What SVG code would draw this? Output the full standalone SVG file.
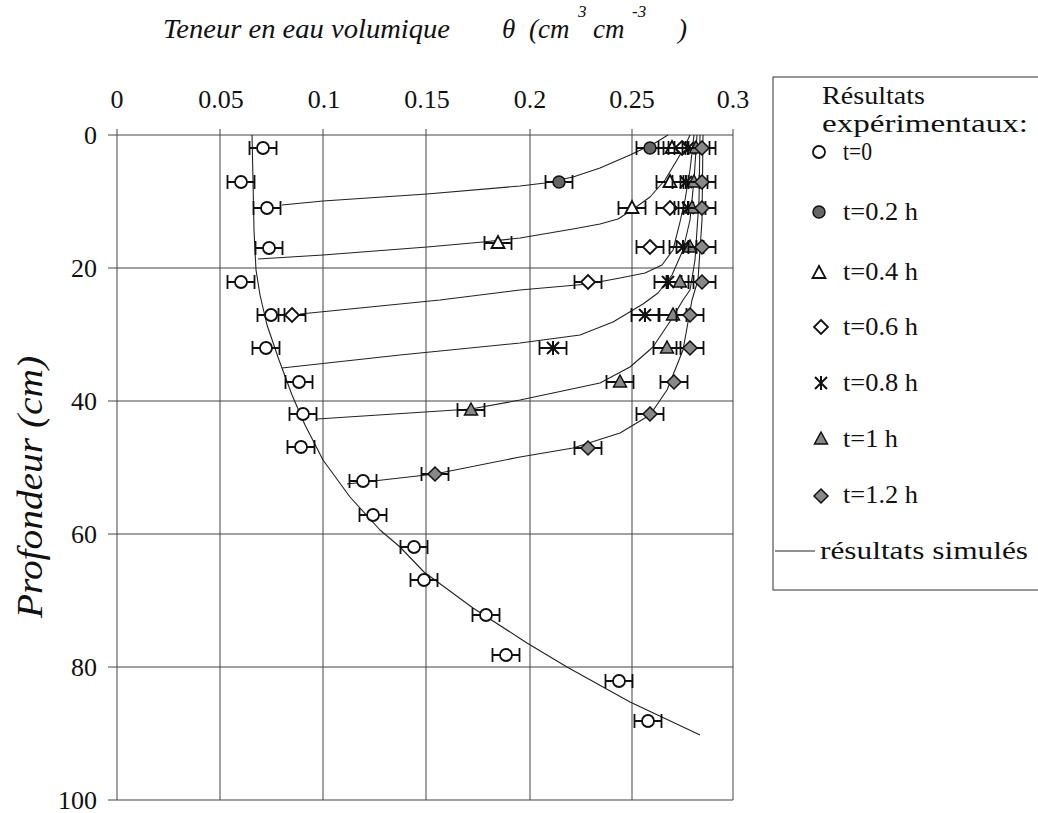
<svg xmlns="http://www.w3.org/2000/svg" xmlns:xlink="http://www.w3.org/1999/xlink" width="1038" height="813" viewBox="0 0 1038 813" font-family="Liberation Serif, Times New Roman, serif">
<style>
text{font-family:'Liberation Serif','Times New Roman',serif;fill:#111}
.it{font-style:italic}
.tick{font-size:26px}
.leg{font-size:26px}
.grid{stroke:#444;stroke-width:1;fill:none}
.curve{stroke:#222;stroke-width:1.1;fill:none;stroke-linejoin:round}
.eb{stroke:#111;stroke-width:1.8;fill:none}
.oc{fill:#fff;stroke:#111;stroke-width:1.8}
.fc{fill:#666;stroke:#111;stroke-width:1.5}
.ot{fill:#fff;stroke:#111;stroke-width:1.8}
.ft{fill:#888;stroke:#111;stroke-width:1.5}
.od{fill:#fff;stroke:#111;stroke-width:1.8}
.fd{fill:#888;stroke:#111;stroke-width:1.5}
.xs{stroke:#111;stroke-width:2;fill:none}
</style>
<defs>
<path id="eb" class="eb" d="M-13.5,0H13.5M-13.5,-7V7M13.5,-7V7"/>
<circle id="mOC" class="oc" r="6"/>
<circle id="mFC" class="fc" r="6"/>
<path id="mOT" class="ot" d="M0,-7L6.5,5L-6.5,5Z"/>
<path id="mFT" class="ft" d="M0,-7L6.5,5L-6.5,5Z"/>
<path id="mOD" class="od" d="M0,-7L7,0L0,7L-7,0Z"/>
<path id="mFD" class="fd" d="M0,-7L7,0L0,7L-7,0Z"/>
<path id="mX" class="xs" d="M-6,-6L6,6M-6,6L6,-6M0,-7V7"/>
</defs>

<g id="title" font-family="Liberation Serif, serif" font-style="italic">
<text class="it" x="163" y="38" font-size="27" textLength="287" lengthAdjust="spacingAndGlyphs">Teneur en eau volumique</text>
<text class="it" x="502" y="38" font-size="27">θ</text>
<text class="it" x="529" y="38" font-size="27">(cm</text>
<text class="it" x="578" y="17" font-size="17">3</text>
<text class="it" x="593" y="38" font-size="27">cm</text>
<text class="it" x="632" y="17" font-size="17">-3</text>
<text class="it" x="678" y="38" font-size="27">)</text>
</g>

<g id="y-title" font-family="Liberation Serif, serif" font-style="italic">
<text class="it" transform="translate(42,487) rotate(-90)" text-anchor="middle" font-size="35" textLength="262" lengthAdjust="spacingAndGlyphs">Profondeur (cm)</text>
</g>

<g id="grid">
<path class="grid" d="M117,129V800M220,129V800M323,129V800M426,129V800M530,129V800M632,129V800M733,129V800"/>
<path class="grid" d="M108,135H733M108,268H733M108,401H733M108,534H733M108,667H733M108,800H733"/>
</g>

<g id="x-ticks" font-family="Liberation Serif, serif" text-anchor="middle">
<text class="tick" x="117" y="108">0</text>
<text class="tick" x="221" y="108">0.05</text>
<text class="tick" x="324" y="108">0.1</text>
<text class="tick" x="427" y="108">0.15</text>
<text class="tick" x="530" y="108">0.2</text>
<text class="tick" x="632" y="108">0.25</text>
<text class="tick" x="733" y="108">0.3</text>
</g>

<g id="y-ticks" font-family="Liberation Serif, serif" text-anchor="end">
<text class="tick" x="97" y="144">0</text>
<text class="tick" x="97" y="277">20</text>
<text class="tick" x="97" y="410">40</text>
<text class="tick" x="97" y="543">60</text>
<text class="tick" x="97" y="676">80</text>
<text class="tick" x="97" y="809">100</text>
</g>

<g id="connectors">
<polyline class="curve" points="252,135 253,180 254,230 256,270 260,295 267,325 279,360 292,395 305,425 323,460 350,497 380,530 400,547 424,572 473,608 527,643 567,667 630,702 700,735"/>
<polyline class="curve" points="668,135 655,143 630,155 600,168 573,177 545,183 520,186 427,194 323,201 282,205"/>
<polyline class="curve" points="690,135 684,148 677,160 665,180 650,197 632,210 618,219 600,224 573,229 520,238 483,242 427,247 323,255 258,259"/>
<polyline class="curve" points="694,135 690,170 685,200 680,222 673,250 662,265 645,273 620,278 588,284 520,290 440,300 300,314"/>
<polyline class="curve" points="697,135 694,180 690,220 683,250 672,275 658,293 643,304 613,322 580,335 520,343 400,355 282,368"/>
<polyline class="curve" points="700,135 699,200 695,260 690,290 683,300 673,317 653,347 630,367 600,383 520,400 471,409 317,419"/>
<polyline class="curve" points="703,135 702,220 698,280 692,300 683,350 667,390 650,415 620,433 573,448 520,457 435,474 347,484"/>
</g>

<g id="series-t0">
<use xlink:href="#eb" x="263" y="148"/><use xlink:href="#mOC" x="263" y="148"/>
<use xlink:href="#eb" x="241" y="182"/><use xlink:href="#mOC" x="241" y="182"/>
<use xlink:href="#eb" x="267" y="208"/><use xlink:href="#mOC" x="267" y="208"/>
<use xlink:href="#eb" x="269" y="248"/><use xlink:href="#mOC" x="269" y="248"/>
<use xlink:href="#eb" x="241" y="282"/><use xlink:href="#mOC" x="241" y="282"/>
<use xlink:href="#eb" x="271" y="315"/><use xlink:href="#mOC" x="271" y="315"/>
<use xlink:href="#eb" x="266" y="348"/><use xlink:href="#mOC" x="266" y="348"/>
<use xlink:href="#eb" x="299" y="382"/><use xlink:href="#mOC" x="299" y="382"/>
<use xlink:href="#eb" x="303" y="414"/><use xlink:href="#mOC" x="303" y="414"/>
<use xlink:href="#eb" x="301" y="447"/><use xlink:href="#mOC" x="301" y="447"/>
<use xlink:href="#eb" x="363" y="481"/><use xlink:href="#mOC" x="363" y="481"/>
<use xlink:href="#eb" x="373" y="515"/><use xlink:href="#mOC" x="373" y="515"/>
<use xlink:href="#eb" x="414" y="547"/><use xlink:href="#mOC" x="414" y="547"/>
<use xlink:href="#eb" x="424" y="580"/><use xlink:href="#mOC" x="424" y="580"/>
<use xlink:href="#eb" x="486" y="615"/><use xlink:href="#mOC" x="486" y="615"/>
<use xlink:href="#eb" x="506" y="655"/><use xlink:href="#mOC" x="506" y="655"/>
<use xlink:href="#eb" x="619" y="681"/><use xlink:href="#mOC" x="619" y="681"/>
<use xlink:href="#eb" x="648" y="721"/><use xlink:href="#mOC" x="648" y="721"/>
</g>

<g id="series-t02">
<use xlink:href="#eb" x="650" y="148"/><use xlink:href="#mFC" x="650" y="148"/>
<use xlink:href="#eb" x="559" y="182"/><use xlink:href="#mFC" x="559" y="182"/>
</g>

<g id="series-t04">
<use xlink:href="#eb" x="672" y="148"/><use xlink:href="#mOT" x="672" y="148"/>
<use xlink:href="#eb" x="670" y="182"/><use xlink:href="#mOT" x="670" y="182"/>
<use xlink:href="#eb" x="632" y="208"/><use xlink:href="#mOT" x="632" y="208"/>
<use xlink:href="#eb" x="498" y="243"/><use xlink:href="#mOT" x="498" y="243"/>
</g>

<g id="series-t06">
<use xlink:href="#eb" x="682" y="148"/><use xlink:href="#mOD" x="682" y="148"/>
<use xlink:href="#eb" x="670" y="208"/><use xlink:href="#mOD" x="670" y="208"/>
<use xlink:href="#eb" x="650" y="247"/><use xlink:href="#mOD" x="650" y="247"/>
<use xlink:href="#eb" x="588" y="282"/><use xlink:href="#mOD" x="588" y="282"/>
<use xlink:href="#eb" x="292" y="315"/><use xlink:href="#mOD" x="292" y="315"/>
</g>

<g id="series-t08">
<use xlink:href="#eb" x="688" y="148"/><use xlink:href="#mX" x="688" y="148"/>
<use xlink:href="#eb" x="686" y="182"/><use xlink:href="#mX" x="686" y="182"/>
<use xlink:href="#eb" x="688" y="208"/><use xlink:href="#mX" x="688" y="208"/>
<use xlink:href="#eb" x="683" y="247"/><use xlink:href="#mX" x="683" y="247"/>
<use xlink:href="#eb" x="668" y="282"/><use xlink:href="#mX" x="668" y="282"/>
<use xlink:href="#eb" x="645" y="315"/><use xlink:href="#mX" x="645" y="315"/>
<use xlink:href="#eb" x="553" y="348"/><use xlink:href="#mX" x="553" y="348"/>
</g>

<g id="series-t1">
<use xlink:href="#eb" x="696" y="148"/><use xlink:href="#mFT" x="696" y="148"/>
<use xlink:href="#eb" x="694" y="182"/><use xlink:href="#mFT" x="694" y="182"/>
<use xlink:href="#eb" x="692" y="208"/><use xlink:href="#mFT" x="692" y="208"/>
<use xlink:href="#eb" x="690" y="247"/><use xlink:href="#mFT" x="690" y="247"/>
<use xlink:href="#eb" x="680" y="282"/><use xlink:href="#mFT" x="680" y="282"/>
<use xlink:href="#eb" x="673" y="315"/><use xlink:href="#mFT" x="673" y="315"/>
<use xlink:href="#eb" x="667" y="348"/><use xlink:href="#mFT" x="667" y="348"/>
<use xlink:href="#eb" x="620" y="382"/><use xlink:href="#mFT" x="620" y="382"/>
<use xlink:href="#eb" x="471" y="410"/><use xlink:href="#mFT" x="471" y="410"/>
</g>

<g id="series-t12">
<use xlink:href="#eb" x="702" y="148"/><use xlink:href="#mFD" x="702" y="148"/>
<use xlink:href="#eb" x="702" y="182"/><use xlink:href="#mFD" x="702" y="182"/>
<use xlink:href="#eb" x="702" y="208"/><use xlink:href="#mFD" x="702" y="208"/>
<use xlink:href="#eb" x="702" y="247"/><use xlink:href="#mFD" x="702" y="247"/>
<use xlink:href="#eb" x="702" y="282"/><use xlink:href="#mFD" x="702" y="282"/>
<use xlink:href="#eb" x="690" y="315"/><use xlink:href="#mFD" x="690" y="315"/>
<use xlink:href="#eb" x="690" y="348"/><use xlink:href="#mFD" x="690" y="348"/>
<use xlink:href="#eb" x="674" y="382"/><use xlink:href="#mFD" x="674" y="382"/>
<use xlink:href="#eb" x="650" y="414"/><use xlink:href="#mFD" x="650" y="414"/>
<use xlink:href="#eb" x="588" y="448"/><use xlink:href="#mFD" x="588" y="448"/>
<use xlink:href="#eb" x="435" y="474"/><use xlink:href="#mFD" x="435" y="474"/>
</g>

<g id="legend" font-family="Liberation Serif, serif">
<rect x="773" y="77" width="300" height="513" fill="#fff" stroke="#333" stroke-width="1"/>
<text class="leg" x="822" y="104" textLength="103" lengthAdjust="spacingAndGlyphs">Résultats</text>
<text class="leg" x="822" y="132" textLength="206" lengthAdjust="spacingAndGlyphs">expérimentaux:</text>
<use xlink:href="#mOC" x="819" y="152"/><text class="leg" x="843" y="160" textLength="29" lengthAdjust="spacingAndGlyphs">t=0</text>
<use xlink:href="#mFC" x="819" y="212"/><text class="leg" x="843" y="220" textLength="75" lengthAdjust="spacingAndGlyphs">t=0.2 h</text>
<use xlink:href="#mOT" x="819" y="273"/><text class="leg" x="843" y="280" textLength="75" lengthAdjust="spacingAndGlyphs">t=0.4 h</text>
<use xlink:href="#mOD" x="821" y="327"/><text class="leg" x="843" y="335" textLength="75" lengthAdjust="spacingAndGlyphs">t=0.6 h</text>
<use xlink:href="#mX" x="821" y="383"/><text class="leg" x="843" y="391" textLength="75" lengthAdjust="spacingAndGlyphs">t=0.8 h</text>
<use xlink:href="#mFT" x="821" y="439"/><text class="leg" x="843" y="447" textLength="55" lengthAdjust="spacingAndGlyphs">t=1 h</text>
<use xlink:href="#mFD" x="821" y="496"/><text class="leg" x="843" y="503" textLength="75" lengthAdjust="spacingAndGlyphs">t=1.2 h</text>
<line x1="775" y1="551" x2="815" y2="551" stroke="#222" stroke-width="1.1"/>
<text class="leg" x="820" y="559" textLength="208" lengthAdjust="spacingAndGlyphs">résultats simulés</text>
</g>
</svg>
